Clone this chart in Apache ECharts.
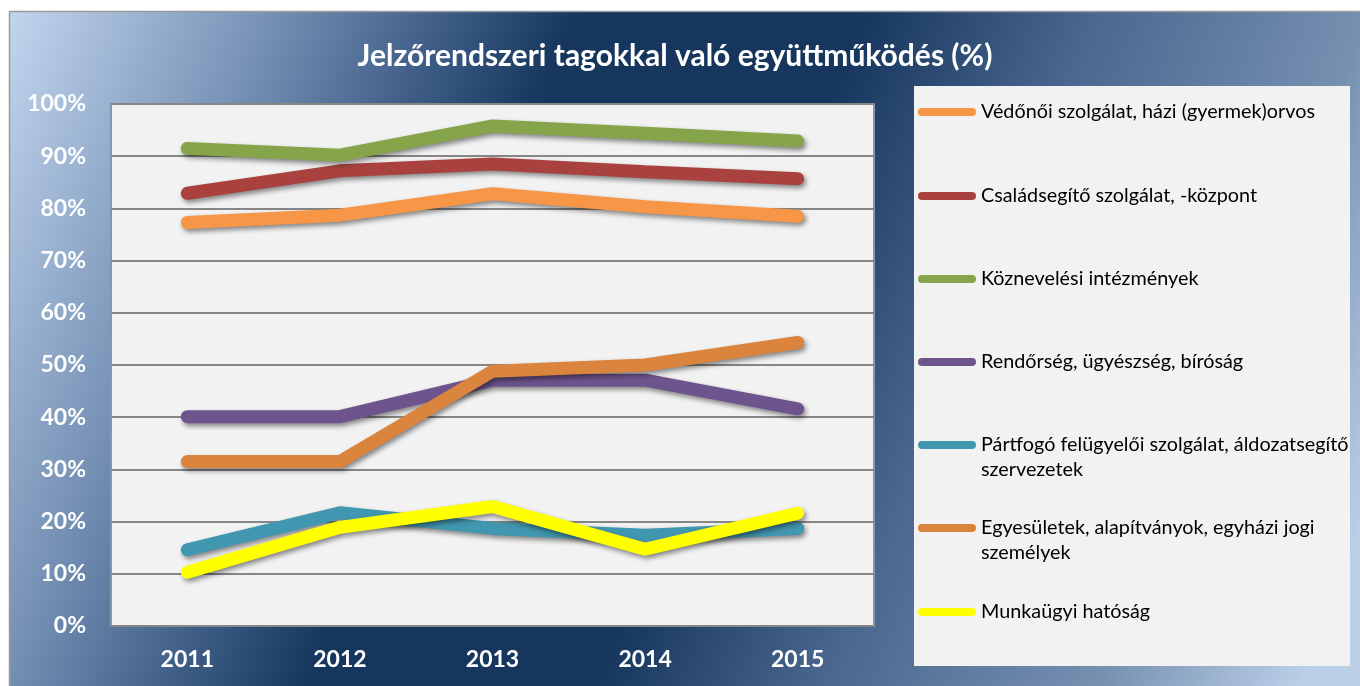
<!DOCTYPE html>
<html>
<head>
<meta charset="utf-8">
<script src="https://cdn.jsdelivr.net/npm/echarts@6/dist/echarts.min.js"></script>
<style>
html, body { margin: 0; padding: 0; background: #fff; }
#chart { width: 1360px; height: 686px; }
</style>
</head>
<body>
<div id="chart"></div>
<script>
var years = ['2011', '2012', '2013', '2014', '2015']
var seriesNames = [
    'Védőnői szolgálat, házi (gyermek)orvos',
    'Családsegítő szolgálat, -központ',
    'Köznevelési intézmények',
    'Rendőrség, ügyészség, bíróság',
    'Pártfogó felügyelői szolgálat, áldozatsegítő szervezetek',
    'Egyesületek, alapítványok, egyházi jogi személyek',
    'Munkaügyi hatóság'
]
// legend text as it wraps in the original (leading empty line keeps the icon on the first line)
var legendLabels = [
    'Védőnői szolgálat, házi (gyermek)orvos',
    'Családsegítő szolgálat, -központ',
    'Köznevelési intézmények',
    'Rendőrség, ügyészség, bíróság',
    '\nPártfogó felügyelői szolgálat, áldozatsegítő\nszervezetek',
    '\nEgyesületek, alapítványok, egyházi jogi\nszemélyek',
    'Munkaügyi hatóság'
]
var vedonoi = [77.3, 78.7, 82.8, 80.3, 78.5]
var csaladsegito = [82.9, 87.2, 88.5, 87.0, 85.7]
var koznevelesi = [91.5, 90.2, 95.8, 94.4, 92.9]
var rendorseg = [40.1, 40.1, 47.1, 47.1, 41.6]
var partfogo = [14.6, 21.7, 18.7, 17.4, 18.7]
var egyesuletek = [31.5, 31.5, 48.8, 50.0, 54.3]
var munkaugyi = [10.3, 18.9, 22.9, 14.7, 21.6]

var values = [vedonoi, csaladsegito, koznevelesi, rendorseg, partfogo, egyesuletek, munkaugyi]
var colors = ['#F79646', '#A9423F', '#86A44A', '#6E548D', '#4197AF', '#DB843D', '#FFFF00']

var font = 'Lato, "Open Sans", sans-serif'
var legendTops = [112, 196, 279, 362, 445, 528, 612] // first-line centres

var myChart = echarts.init(document.getElementById('chart'))

var legends = seriesNames.map(function (name, i) {
    var twoLines = legendLabels[i].indexOf('\n') >= 0
    return {
        orient: 'vertical',
        left: 918,
        top: twoLines ? legendTops[i] - 37.5 : legendTops[i] - 12.5,
        padding: 0,
        itemWidth: 58,
        itemHeight: 8,
        icon: 'path://M4,0 H54 A4,4 0 0 1 54,8 H4 A4,4 0 0 1 4,0 Z',
        itemStyle: { shadowBlur: 0, shadowOffsetX: 0, shadowOffsetY: 0 },
        formatter: function () { return legendLabels[i] },
        textStyle: {
            color: '#000',
            fontFamily: font,
            fontSize: 19.8,
            lineHeight: 25
        },
        data: [name]
    }
})

var option = {
    animation: false,
    graphic: [
        {
            type: 'rect',
            shape: { x: 9.5, y: 11.5, width: 1352, height: 680 },
            style: {
                fill: {
                    type: 'linear', global: true,
                    x: 0, y: 0, x2: 1360, y2: 544,
                    colorStops: [
                        { offset: 0, color: '#c6d9f1' },
                        { offset: 0.17, color: '#7893b7' },
                        { offset: 0.30, color: '#375680' },
                        { offset: 0.37, color: '#17365d' },
                        { offset: 0.55, color: '#17365d' },
                        { offset: 0.70, color: '#4a6890' },
                        { offset: 0.87, color: '#7690b1' },
                        { offset: 1, color: '#bcd0e8' }
                    ]
                },
                stroke: '#9a9a9a',
                lineWidth: 1.5
            },
            z: -10
        },
        {
            type: 'rect',
            shape: { x: 914, y: 86, width: 436, height: 580 },
            style: { fill: '#f2f2f2' },
            z: -5
        }
    ],
    title: {
        text: 'Jelzőrendszeri tagokkal való együttműködés (%)',
        left: 670,
        textAlign: 'center',
        top: 36,
        textStyle: {
            color: '#fff',
            fontFamily: font,
            fontSize: 30,
            fontWeight: 'bold'
        }
    },
    legend: legends,
    grid: {
        show: true,
        left: 111,
        top: 104,
        width: 763,
        height: 522,
        backgroundColor: '#f2f2f2',
        borderColor: '#8497b0',
        borderWidth: 2
    },
    xAxis: {
        type: 'category',
        data: years,
        boundaryGap: true,
        axisLine: { show: false },
        axisTick: { show: false },
        axisLabel: {
            color: '#fff',
            fontFamily: font,
            fontSize: 23,
            fontWeight: 'bold',
            margin: 22
        }
    },
    yAxis: {
        type: 'value',
        min: 0,
        max: 100,
        interval: 10,
        axisLine: { show: false },
        axisTick: { show: false },
        splitLine: { lineStyle: { color: '#868686', width: 2 } },
        axisLabel: {
            color: '#fff',
            fontFamily: font,
            fontSize: 23,
            fontWeight: 'bold',
            margin: 25,
            formatter: '{value}%'
        }
    },
    series: seriesNames.map(function (name, i) {
        return {
            name: name,
            type: 'line',
            symbol: 'none',
            color: colors[i],
            lineStyle: {
                width: 13,
                cap: 'round',
                shadowColor: 'rgba(0,0,0,0.45)',
                shadowBlur: 5,
                shadowOffsetX: 2,
                shadowOffsetY: 3
            },
            data: values[i]
        }
    })
}

myChart.setOption(option)
</script>
</body>
</html>
